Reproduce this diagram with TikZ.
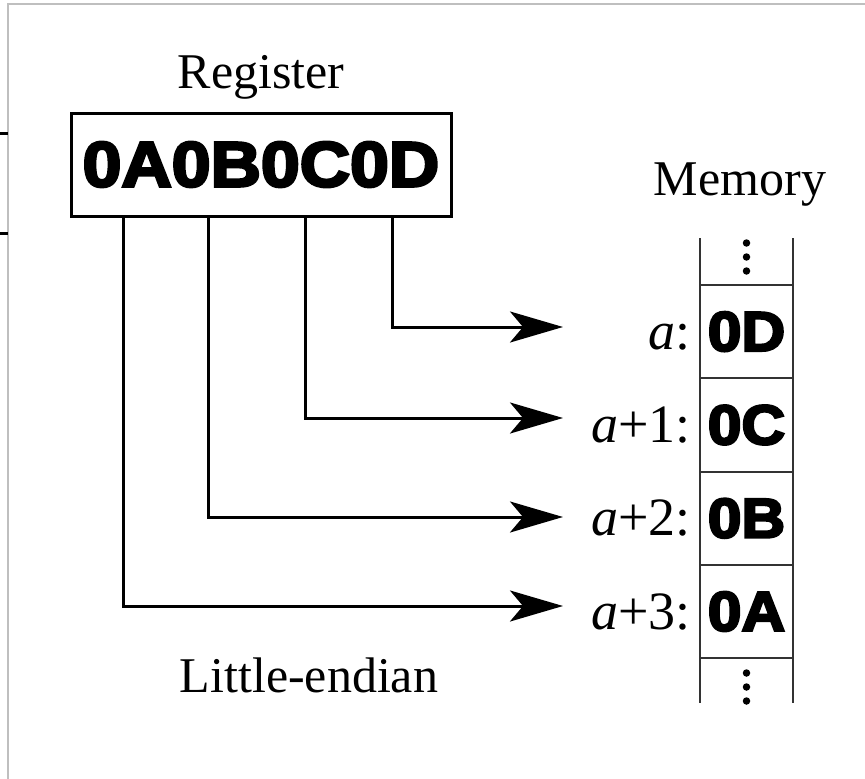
\documentclass[tikz,border=0pt]{standalone}
\usepackage{fontspec}
\setmainfont{Liberation Serif}
\newfontfamily\hexfont[BoldFeatures={FakeBold=4}]{Liberation Sans}
\usetikzlibrary{arrows.meta}

\tikzset{
  frame/.style={draw=black!25, line width=1.5pt},
  regbox/.style={draw, line width=3pt, minimum width=380pt, minimum height=103pt, inner sep=0pt},
  conn/.style={line width=3pt, -{Stealth[length=53pt, width=31pt, inset=13pt]}},
  memline/.style={draw=black!80, line width=2pt},
  caption/.style={font=\fontsize{50}{50}\selectfont, anchor=base, inner sep=0pt},
  addr/.style={font=\fontsize{54}{54}\selectfont, anchor=base east, inner sep=0pt},
  cellbox/.style={inner sep=0pt, minimum width=93pt, minimum height=93pt},
  dot/.style={fill=black, circle, inner sep=0pt, minimum size=7.5pt}
}
\newcommand{\hexbig}[1]{\scalebox{1.09}[1]{\fontsize{64}{64}\hexfont\bfseries #1}}
\newcommand{\hexcell}[1]{\scalebox{1.08}[1]{\fontsize{56}{56}\hexfont\bfseries #1}}

\begin{document}
\begin{tikzpicture}[x=1pt, y=-1pt]
\useasboundingbox (0,0) rectangle (865,779);

% page frame and the edge strokes beside it
\draw[frame] (8,779) -- (8,4) -- (865,4);
\draw[line width=3pt] (0,133) -- (8,133);
\draw[line width=3pt] (0,233) -- (8,233);

% register
\node[caption] (regcap) at (261,88) {Register};
\node[regbox] (reg) at (261,164.5) {\hexbig{0A0B0C0D}};

% memory column
\node[caption] (memcap) at (740,195) {Memory};
\draw[memline] (700,238) -- (700,703);
\draw[memline] (793,238) -- (793,703);
\foreach \yy in {285,378.3,471.7,565,658}
  \draw[memline] (700,\yy) -- (793,\yy);

\node[dot] (d1) at (746.5,243) {};
\node[dot] (d2) at (746.5,257) {};
\node[dot] (d3) at (746.5,271) {};
\node[dot] (d4) at (746.5,673) {};
\node[dot] (d5) at (746.5,687) {};
\node[dot] (d6) at (746.5,701) {};

\node[cellbox] (m0) at (746.5,331.6) {\hexcell{0D}};
\node[cellbox] (m1) at (746.5,425) {\hexcell{0C}};
\node[cellbox] (m2) at (746.5,518.3) {\hexcell{0B}};
\node[cellbox] (m3) at (746.5,611.5) {\hexcell{0A}};

\node[addr] (a0) at (691,349) {\textit{a}:};
\node[addr] (a1) at (691,442.5) {\textit{a}+1:};
\node[addr] (a2) at (691,535.8) {\textit{a}+2:};
\node[addr] (a3) at (691,629) {\textit{a}+3:};

% arrow tips
\coordinate (t0) at (563,327);
\coordinate (t1) at (563,418);
\coordinate (t2) at (563,517);
\coordinate (t3) at (563,606);

\draw[conn] ([xshift=131pt]reg.south) |- (t0);
\draw[conn] ([xshift=44pt]reg.south) |- (t1);
\draw[conn] ([xshift=-53pt]reg.south) |- (t2);
\draw[conn] ([xshift=-138pt]reg.south) |- (t3);

\node[caption] (endian) at (309,692) {Little-endian};
\end{tikzpicture}
\end{document}
